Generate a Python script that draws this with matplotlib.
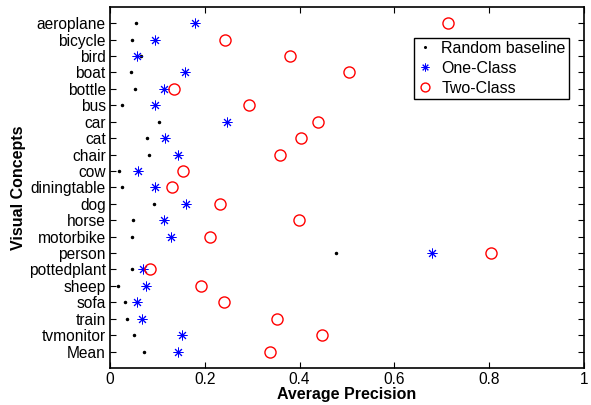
import numpy as np
import matplotlib.pyplot as plt

plt.rcParams['font.family'] = ['Liberation Sans', 'DejaVu Sans']

concepts = ['aeroplane', 'bicycle', 'bird', 'boat', 'bottle', 'bus', 'car', 'cat',
            'chair', 'cow', 'diningtable', 'dog', 'horse', 'motorbike', 'person',
            'pottedplant', 'sheep', 'sofa', 'train', 'tvmonitor', 'Mean']

random_ap = [0.055, 0.047, 0.065, 0.045, 0.053, 0.026, 0.103, 0.078, 0.082, 0.020,
             0.026, 0.092, 0.048, 0.047, 0.477, 0.046, 0.018, 0.031, 0.035, 0.050, 0.072]
one_class = [0.179, 0.096, 0.057, 0.158, 0.114, 0.096, 0.248, 0.117, 0.143, 0.060,
             0.096, 0.160, 0.115, 0.129, 0.680, 0.069, 0.076, 0.058, 0.067, 0.152, 0.143]
two_class = [0.714, 0.243, 0.379, 0.505, 0.136, 0.294, 0.439, 0.404, 0.359, 0.154,
             0.132, 0.233, 0.399, 0.212, 0.803, 0.085, 0.192, 0.241, 0.352, 0.448, 0.337]

y = np.arange(1, len(concepts) + 1)

fig = plt.figure(figsize=(5.91, 4.05), dpi=100)
ax = fig.add_axes([0.186, 0.0914, 0.802, 0.892])

ax.plot(random_ap, y, '.', color='k', markersize=3, label='Random baseline')
ax.plot(one_class, y, linestyle='none', marker=(8, 2, 0), color='b', markersize=7,
        markeredgewidth=0.7, label='One-Class')
ax.plot(two_class, y, 'o', mfc='none', mec='r', markersize=8, markeredgewidth=1.0,
        label='Two-Class')

ax.set_xlim(0, 1)
ax.set_ylim(22, 0)
ax.set_yticks(y)
ax.set_yticklabels(concepts)
ax.set_xticks([0, 0.2, 0.4, 0.6, 0.8, 1])
ax.set_xticklabels(['0', '0.2', '0.4', '0.6', '0.8', '1'])
ax.tick_params(direction='in', top=True, right=True, labelsize=11.2, length=4, pad=3)
for s in ax.spines.values():
    s.set_linewidth(1.2)

ax.set_xlabel('Average Precision', fontweight='bold', fontsize=11.5, labelpad=0)
ax.set_ylabel('Visual Concepts', fontweight='bold', fontsize=11.5, labelpad=2)

leg = ax.legend(loc='upper right', bbox_to_anchor=(0.968, 0.914), fancybox=False,
                edgecolor='k', fontsize=11.5, handlelength=1.0, handletextpad=0.5,
                borderpad=0.2, labelspacing=0.3, borderaxespad=0, framealpha=1,
                markerscale=0.8)
leg.get_frame().set_linewidth(1.0)

fig.savefig('out.png', dpi=100)
